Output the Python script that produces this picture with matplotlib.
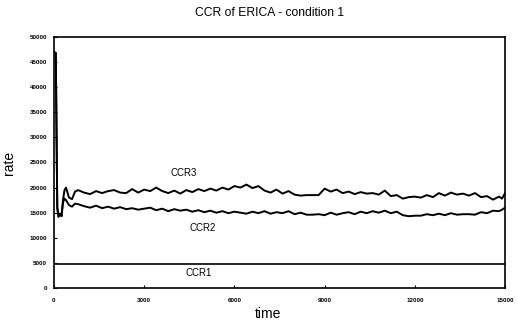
import matplotlib.pyplot as plt

plt.rcParams["font.family"] = ["Liberation Sans", "DejaVu Sans"]

# start-up transient, shared by CCR2 and CCR3 until ~300
start_time = [0, 60, 90, 110, 150, 200, 250]
start_rate = [47000, 46800, 28000, 16000, 14200, 14800, 14300]

# after the transient the two curves split
split_time = [300, 350, 400, 500, 600, 700]
split_ccr3 = [17500, 19500, 20000, 18000, 17700, 19200]
split_ccr2 = [17000, 17800, 17500, 16500, 16200, 16800]

steady_time = list(range(800, 15000, 200)) + [14900, 15000]
steady_ccr3 = [19500, 19000, 18700, 19300, 18900, 19300, 19500, 19000, 18900, 19700,
               19000, 19600, 19300, 20000, 19300, 18900, 19400, 18800, 19500, 19100,
               19700, 19300, 19800, 19400, 20000, 19600, 20300, 20000, 20600, 19900,
               20300, 19400, 19000, 19600, 18800, 19300, 18600, 18400, 18500, 18500,
               18500, 19800, 19200, 19600, 18900, 19200, 18700, 19100, 18800, 18900,
               18600, 19400, 18300, 18500, 17800, 18100, 18200, 18000, 18500, 18100,
               18900, 18400, 19000, 18600, 18800, 18400, 18900, 18100, 18300, 17600,
               18200, 17800, 18900]
steady_ccr2 = [16700, 16300, 16000, 16400, 15900, 16200, 15800, 16100, 15700, 15900,
               15600, 15800, 16000, 15500, 15800, 15300, 15700, 15400, 15600, 15200,
               15500, 15100, 15400, 15000, 15300, 14900, 15200, 15000, 14800, 15200,
               14900, 15300, 14800, 15100, 14900, 15300, 14700, 15000, 14600, 14600,
               14700, 14500, 15000, 14600, 14900, 15100, 14700, 15200, 14900, 15300,
               15000, 15400, 14900, 15200, 14500, 14300, 14400, 14400, 14700, 14500,
               14800, 14500, 14900, 14600, 14700, 14700, 14600, 15100, 14900, 15400,
               15300, 15600, 16000]

ccr1_time = [0, 15000]
ccr1_rate = [4800, 4800]

x_ticks = [0, 3000, 6000, 9000, 12000, 15000]
y_ticks = list(range(0, 50001, 5000))

time_ccr3 = start_time + split_time + steady_time
rate_ccr3 = start_rate + split_ccr3 + steady_ccr3
time_ccr2 = start_time + split_time + steady_time
rate_ccr2 = start_rate + split_ccr2 + steady_ccr2

fig = plt.figure(figsize=(5.18, 3.26), dpi=100)
ax = fig.add_axes([0.1042, 0.1166, 0.8708, 0.77])

ax.plot(time_ccr3, rate_ccr3, color="black", linewidth=1.4)
ax.plot(time_ccr2, rate_ccr2, color="black", linewidth=1.4)
ax.plot(ccr1_time, ccr1_rate, color="black", linewidth=1.2)

ax.text(4300, 22900, "CCR3", fontsize=7, ha="center", va="center")
ax.text(4950, 12000, "CCR2", fontsize=7, ha="center", va="center")
ax.text(4800, 3000, "CCR1", fontsize=7, ha="center", va="center")

ax.set_xlim(0, 15000)
ax.set_ylim(0, 50000)
ax.set_xticks(x_ticks)
ax.set_yticks(y_ticks)
ax.tick_params(direction="in", length=2, width=0.8, labelsize=4.5)
ax.tick_params(axis="x", pad=7)
ax.tick_params(axis="y", pad=5)
for label in ax.get_xticklabels() + ax.get_yticklabels():
    label.set_fontweight("bold")
for spine in ax.spines.values():
    spine.set_linewidth(1.2)

fig.text(270 / 518, 1 - 13 / 326, "CCR of ERICA - condition 1", fontsize=8.7,
         ha="center", va="center")
fig.text(268 / 518, 1 - 314 / 326, "time", fontsize=10, ha="center", va="center")
ax.set_ylabel("rate", fontsize=10, labelpad=10)

fig.savefig("out.png", dpi=100)
